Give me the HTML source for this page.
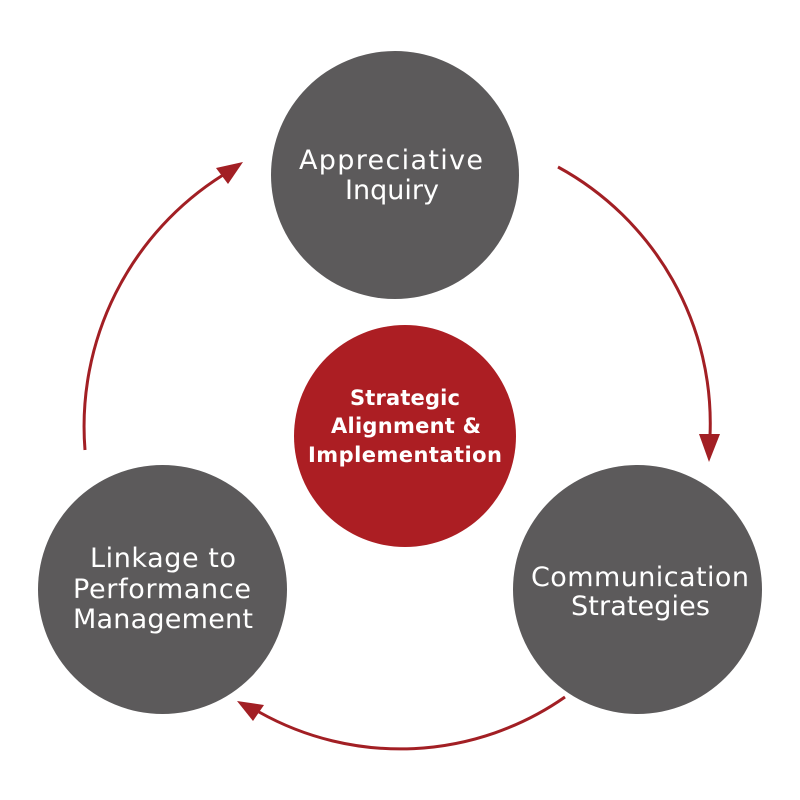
<!DOCTYPE html>
<html>
<head>
<meta charset="utf-8">
<style>
  html, body { margin: 0; padding: 0; background: #ffffff; }
  svg { display: block; }
  .g { font-family: "DejaVu Sans", "Liberation Sans", sans-serif; font-size: 27px; fill: #ffffff; }
  .b { font-family: "DejaVu Sans", "Liberation Sans", sans-serif; font-size: 21px; font-weight: bold; fill: #ffffff; }
</style>
</head>
<body>
<svg width="800" height="800" viewBox="0 0 800 800" xmlns="http://www.w3.org/2000/svg">
  <rect width="800" height="800" fill="#ffffff"/>

  <!-- arcs -->
  <g fill="none" stroke="#a21f24" stroke-width="3">
    <path d="M85,450 A297,297 0 0 1 223,175"/>
    <path d="M558,167 A292,292 0 0 1 710,436"/>
    <path d="M565,697 A288,288 0 0 1 259,712"/>
  </g>
  <!-- arrowheads -->
  <g fill="#a21f24">
    <polygon points="243,162 216,168 228,184"/>
    <polygon points="709,462 699,434 720,434"/>
    <polygon points="237,701 253,721 264,705"/>
  </g>

  <!-- circles -->
  <circle cx="395" cy="175" r="124" fill="#5c5a5b"/>
  <circle cx="162.5" cy="589.5" r="124.5" fill="#5c5a5b"/>
  <circle cx="637.5" cy="589.5" r="124.5" fill="#5c5a5b"/>
  <circle cx="405" cy="436" r="111" fill="#ac1e23"/>

  <!-- labels -->
  <text class="g" x="391" y="169" text-anchor="middle" textLength="184" lengthAdjust="spacing">Appreciative</text>
  <text class="g" x="392" y="199" text-anchor="middle">Inquiry</text>

  <text class="g" x="640" y="586" text-anchor="middle" textLength="218" lengthAdjust="spacing">Communication</text>
  <text class="g" x="640.5" y="615" text-anchor="middle" textLength="139" lengthAdjust="spacing">Strategies</text>

  <text class="g" x="163" y="567" text-anchor="middle" textLength="146" lengthAdjust="spacing">Linkage to</text>
  <text class="g" x="162" y="598" text-anchor="middle" textLength="178" lengthAdjust="spacing">Performance</text>
  <text class="g" x="163" y="628" text-anchor="middle" textLength="180" lengthAdjust="spacing">Management</text>

  <text class="b" x="405" y="405" text-anchor="middle" textLength="110" lengthAdjust="spacing">Strategic</text>
  <text class="b" x="406" y="433" text-anchor="middle" textLength="150" lengthAdjust="spacing">Alignment &amp;</text>
  <text class="b" x="405" y="462" text-anchor="middle" textLength="194" lengthAdjust="spacing">Implementation</text>
</svg>
</body>
</html>
